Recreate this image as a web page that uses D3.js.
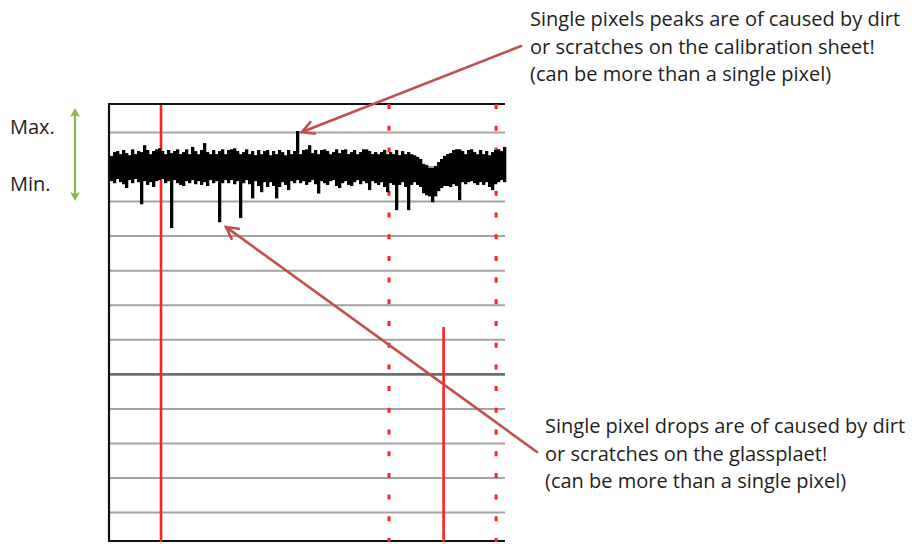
<!DOCTYPE html>
<html>
<head>
<meta charset="utf-8">
<script src="https://cdn.jsdelivr.net/npm/d3@7"></script>
<style>
  html, body { margin: 0; padding: 0; background: #fff; }
  svg { display: block; }
  text { font-family: "Open Sans", "Noto Sans", sans-serif; fill: #1e1e1e; }
</style>
</head>
<body>
<svg id="chart" width="912" height="544"></svg>
<script>
// ---- data ----
// signal envelope per sample (pixel index), in intensity units
const upper = [
  103.2,104.3,104.6,103.7,104.9,104.0,103.4,105.1,103.7,104.6,
  104.3,106.3,104.9,103.7,104.6,105.1,105.4,104.6,103.7,104.9,
  104.0,104.6,105.1,103.7,104.3,105.1,103.7,105.8,104.6,103.7,
  104.9,106.9,104.3,103.7,104.9,103.7,104.6,105.1,103.7,104.9,
  105.1,105.4,104.6,103.7,104.3,105.1,103.7,104.6,103.4,104.9,
  103.7,104.6,104.9,103.4,104.6,103.7,104.9,104.3,103.4,104.9,
  103.7,104.6,110.4,103.7,104.9,105.1,106.3,104.0,104.9,103.7,
  104.9,105.1,104.6,103.7,104.3,105.1,104.0,104.9,105.1,103.7,
  104.3,104.9,103.7,104.3,105.1,105.1,104.6,103.7,104.3,103.7,
  104.3,104.9,103.7,104.3,103.7,104.9,103.4,104.6,103.7,104.3,
  103.7,103.4,102.9,102.3,100.9,100.6,99.7,99.7,100.3,101.4,
  102.3,103.2,103.7,104.0,104.9,105.1,105.1,104.6,103.7,104.9,
  105.1,104.3,103.7,104.9,103.7,104.6,103.4,104.3,104.9,105.1,
  104.6,105.8
];
const lower = [
  95.9,95.3,96.5,95.6,95.0,93.9,96.2,95.3,96.5,95.6,
  89.2,95.9,94.8,95.6,94.2,95.9,96.2,96.5,95.3,95.9,
  82.3,96.2,95.3,94.8,94.5,95.9,95.3,96.2,95.0,95.9,
  94.8,95.6,94.5,96.2,95.3,95.9,84.0,95.3,96.2,95.3,
  96.2,95.0,95.9,85.2,95.3,96.2,95.0,90.9,95.9,94.5,
  92.7,95.6,94.2,95.6,94.5,90.9,94.2,95.6,94.8,93.3,
  95.9,95.3,96.2,95.3,95.9,94.8,95.6,96.2,95.0,92.3,
  95.9,95.3,94.8,95.9,96.2,94.5,93.9,95.3,95.9,94.8,
  94.5,95.6,96.2,95.0,95.9,95.3,93.3,95.9,95.3,94.8,
  95.6,94.2,92.7,95.3,94.8,87.5,94.8,95.6,94.2,87.5,
  94.8,95.6,94.8,94.2,92.4,91.8,91.5,89.8,91.5,93.0,
  93.9,94.5,94.5,94.2,95.0,94.5,90.4,95.6,95.0,95.6,
  95.9,95.3,94.8,95.6,94.8,95.6,94.2,93.3,95.0,95.6,
  96.2,95.6
];
const gridValues = [0, 10, 20, 30, 40, 50, 60, 70, 80, 90, 100, 110];
const strongGrid = [40];
const solidMarkers = [17];
const dottedMarkers = [93, 128.7];
const shortMarkerX = [111.2];
const shortMarkerFrom = [53.7];
const rangeLabels = ["Max.", "Min."];
const peakNote = ["Single pixels peaks are of caused by dirt",
                  "or scratches on the calibration sheet!",
                  "(can be more than a single pixel)"];
const dropNote = ["Single pixel drops are of caused by dirt",
                  "or scratches on the glassplaet!",
                  "(can be more than a single pixel)"];
const peakTarget = [64, 110.1];   // data coords of arrow tip
const dropTarget = [38.7, 82.6];

// ---- scales ----
const svg = d3.select("#chart");
const N = upper.length;
const x = d3.scaleLinear().domain([0, N]).range([110, 506]);
const y = d3.scaleLinear().domain([-8.5, 118.5]).range([542, 103]);
const right = x(N) - 1;

// gridlines
svg.append("g").selectAll("line").data(gridValues).join("line")
  .attr("x1", x(0)).attr("x2", right)
  .attr("y1", d => y(d)).attr("y2", d => y(d))
  .attr("stroke", d => strongGrid.includes(d) ? "#6e6e6e" : "#a3a3a3")
  .attr("stroke-width", d => strongGrid.includes(d) ? 2.6 : 2);

// frame: top, left, bottom
const frame = svg.append("g").attr("stroke", "#111").attr("stroke-width", 2.2);
frame.append("line").attr("x1", x(0) - 1).attr("x2", right).attr("y1", y(118.5) + 1).attr("y2", y(118.5) + 1);
frame.append("line").attr("x1", x(0) - 1).attr("x2", x(0) - 1).attr("y1", y(118.5)).attr("y2", y(-8.5));
frame.append("line").attr("x1", x(0) - 1).attr("x2", right).attr("y1", y(-8.5) - 1).attr("y2", y(-8.5) - 1);

// red markers
const red = "#ff2020";
svg.append("g").selectAll("line").data(solidMarkers).join("line")
  .attr("x1", d => x(d)).attr("x2", d => x(d))
  .attr("y1", y(118.5) + 2).attr("y2", y(-8.5))
  .attr("stroke", red).attr("stroke-width", 2.6);
svg.append("g").selectAll("line").data(dottedMarkers).join("line")
  .attr("x1", d => x(d)).attr("x2", d => x(d))
  .attr("y1", y(118.5) + 1).attr("y2", y(-8.5))
  .attr("stroke", red).attr("stroke-width", 3)
  .attr("stroke-dasharray", "5 16.7");
svg.append("g").selectAll("line").data(shortMarkerX).join("line")
  .attr("x1", d => x(d)).attr("x2", d => x(d))
  .attr("y1", (d, i) => y(shortMarkerFrom[i])).attr("y2", y(-8.5))
  .attr("stroke", red).attr("stroke-width", 2.6);

// signal envelope
svg.append("g").selectAll("rect").data(d3.range(N)).join("rect")
  .attr("x", i => x(i))
  .attr("width", x(1) - x(0) + 0.3)
  .attr("y", i => y(upper[i]))
  .attr("height", i => y(lower[i]) - y(upper[i]))
  .attr("fill", "#000");

// green range arrow
const green = "#8db64a";
const ga = svg.append("g");
ga.append("line").attr("x1", 75).attr("x2", 75).attr("y1", 113).attr("y2", 196)
  .attr("stroke", green).attr("stroke-width", 2.2);
ga.append("path").attr("d", "M75,108 L70,117 L75,115 L80,117 Z").attr("fill", green);
ga.append("path").attr("d", "M75,201 L70,192 L75,194 L80,192 Z").attr("fill", green);
svg.append("g").selectAll("text").data(rangeLabels).join("text")
  .attr("x", 10).attr("y", (d, i) => [134, 191][i])
  .attr("font-size", 20).text(d => d);

// annotations
const noteRed = "#c0504d";
function arrow(x0, y0, x1, y1) {
  const g = svg.append("g").attr("stroke", noteRed).attr("stroke-width", 2.6)
    .attr("fill", "none").attr("stroke-linecap", "round");
  g.append("line").attr("x1", x0).attr("y1", y0).attr("x2", x1).attr("y2", y1);
  const a = Math.atan2(y1 - y0, x1 - x0), L = 13, s = 0.5;
  g.append("path").attr("d",
    `M${x1 - L * Math.cos(a - s)},${y1 - L * Math.sin(a - s)} L${x1},${y1} L${x1 - L * Math.cos(a + s)},${y1 - L * Math.sin(a + s)}`);
}
arrow(521, 46, x(peakTarget[0]), y(peakTarget[1]));
arrow(537, 452, x(dropTarget[0]), y(dropTarget[1]));

svg.append("g").selectAll("text").data(peakNote).join("text")
  .attr("x", 530).attr("y", (d, i) => 26 + i * 27.5)
  .attr("font-size", 20).text(d => d);
svg.append("g").selectAll("text").data(dropNote).join("text")
  .attr("x", 545).attr("y", (d, i) => 433 + i * 27.5)
  .attr("font-size", 20).text(d => d);
</script>
</body>
</html>
